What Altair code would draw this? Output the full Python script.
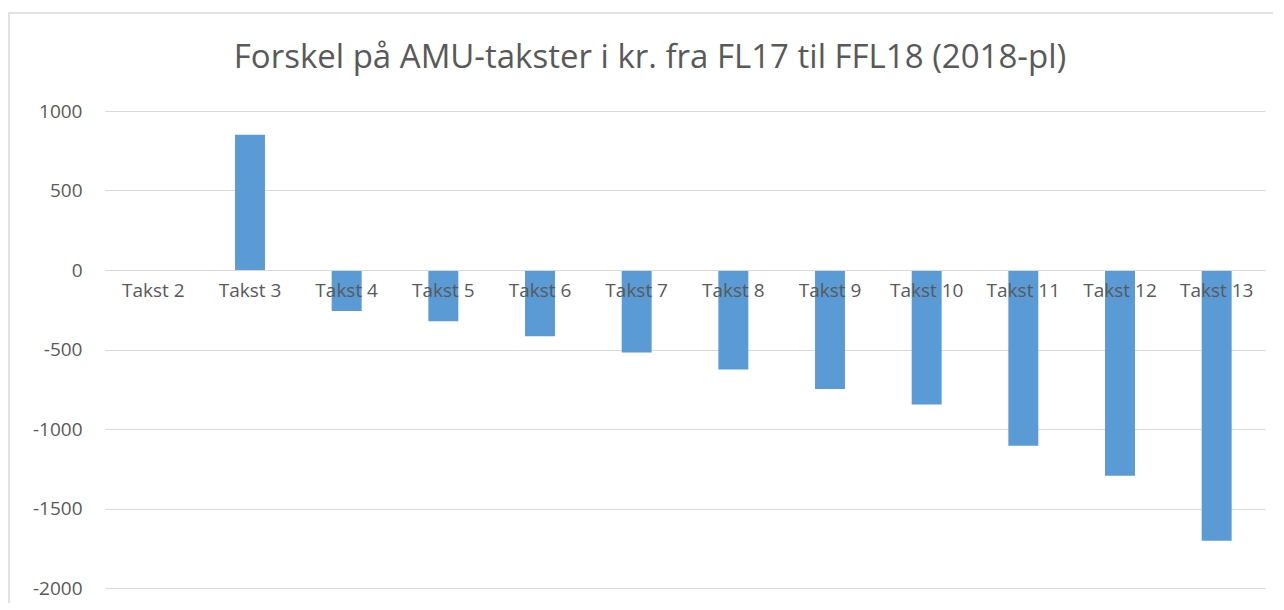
import altair as alt
import pandas as pd

categories = ["Takst 2", "Takst 3", "Takst 4", "Takst 5", "Takst 6", "Takst 7",
              "Takst 8", "Takst 9", "Takst 10", "Takst 11", "Takst 12", "Takst 13"]
values = [0, 851, -258, -323, -416, -519, -626, -748, -846, -1105, -1294, -1703]
y_ticks = [1000, 500, 0, -500, -1000, -1500, -2000]
title_text = "Forskel på AMU-takster i kr. fra FL17 til FFL18 (2018-pl)"

df = pd.DataFrame({"takst": categories, "diff": values})

W, H = 1160, 477
FONT = "Open Sans"
GREY = "#595959"
GRID = "#d9d9d9"

border = alt.Chart(pd.DataFrame({"a": [0]})).mark_rect(
    fill=None, stroke=GRID, strokeWidth=1.5
).encode(
    x=alt.value(-96), x2=alt.value(1200),
    y=alt.value(-98), y2=alt.value(520),
)

title = alt.Chart(pd.DataFrame({"t": [title_text]})).mark_text(
    font=FONT, fontSize=33, color=GREY, align="center", baseline="middle"
).encode(text="t:N", x=alt.value(545), y=alt.value(-53))

bars = alt.Chart(df).mark_bar(color="#5b9bd5").encode(
    x=alt.X("takst:N", sort=categories, title=None,
            scale=alt.Scale(paddingInner=0.69, paddingOuter=0.345),
            axis=alt.Axis(orient="bottom", offset=-318, labelAngle=0,
                          labelFontSize=19, labelColor=GREY, labelFont=FONT,
                          labelPadding=20, ticks=False, domainColor=GRID,
                          domainWidth=1, labelBaseline="middle", zindex=2)),
    y=alt.Y("diff:Q", title=None,
            scale=alt.Scale(domain=[-2000, 1000], nice=False, zero=True),
            axis=alt.Axis(values=y_ticks, labelFontSize=19, labelColor=GREY,
                          labelFont=FONT, labelPadding=23, ticks=False,
                          labelExpr="toString(datum.value)",
                          domain=False, gridColor=GRID, gridWidth=1)),
)

chart = alt.layer(border, title, bars).properties(
    width=W, height=H,
    autosize=alt.AutoSizeParams(type="none"),
    padding={"left": 97, "top": 103, "right": 8, "bottom": 15},
    background="white",
).configure_view(stroke=None)

chart.save("out.html", embed_options={"renderer": "svg", "actions": False})
